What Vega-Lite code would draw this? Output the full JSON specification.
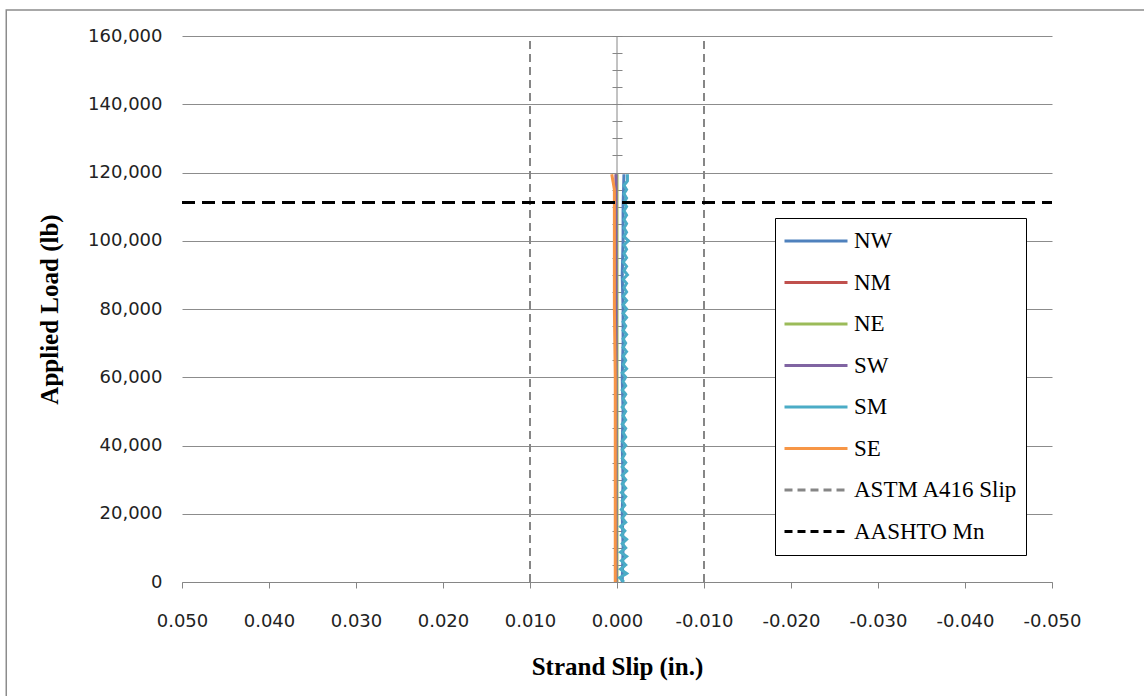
{
  "$schema": "https://vega.github.io/schema/vega-lite/v6.json",
  "width": 870,
  "height": 546,
  "autosize": {"type": "none"},
  "padding": {"left": 182, "top": 36, "right": 92, "bottom": 114},
  "background": "white",
  "config": {"view": {"stroke": null}},
  "datasets": {
    "meas": [
      {"s": "NW", "x": -0.0006, "y": 0}, {"s": "NW", "x": -0.0007, "y": 10000}, {"s": "NW", "x": -0.0006, "y": 20000}, {"s": "NW", "x": -0.0007, "y": 30000}, {"s": "NW", "x": -0.0006, "y": 40000}, {"s": "NW", "x": -0.0007, "y": 50000}, {"s": "NW", "x": -0.0006, "y": 60000}, {"s": "NW", "x": -0.0007, "y": 70000}, {"s": "NW", "x": -0.0007, "y": 80000}, {"s": "NW", "x": -0.0006, "y": 90000}, {"s": "NW", "x": -0.0007, "y": 100000}, {"s": "NW", "x": -0.0007, "y": 110000}, {"s": "NW", "x": -0.0008, "y": 119500},
      {"s": "NM", "x": 0.0001, "y": 0}, {"s": "NM", "x": 0.0001, "y": 20000}, {"s": "NM", "x": 0.0001, "y": 40000}, {"s": "NM", "x": 0.0001, "y": 60000}, {"s": "NM", "x": 0.0001, "y": 80000}, {"s": "NM", "x": 0.0001, "y": 100000}, {"s": "NM", "x": 0.0001, "y": 119500},
      {"s": "NE", "x": 0.0000, "y": 0}, {"s": "NE", "x": 0.0000, "y": 20000}, {"s": "NE", "x": 0.0000, "y": 40000}, {"s": "NE", "x": 0.0000, "y": 60000}, {"s": "NE", "x": 0.0000, "y": 80000}, {"s": "NE", "x": 0.0000, "y": 100000}, {"s": "NE", "x": 0.0000, "y": 119500},
      {"s": "SW", "x": 0.0001, "y": 0}, {"s": "SW", "x": 0.0001, "y": 20000}, {"s": "SW", "x": 0.0001, "y": 40000}, {"s": "SW", "x": 0.0001, "y": 60000}, {"s": "SW", "x": 0.0001, "y": 80000}, {"s": "SW", "x": 0.0001, "y": 100000}, {"s": "SW", "x": 0.0001, "y": 119500},
      {"s": "SM", "x": -0.0008, "y": 0}, {"s": "SM", "x": -0.0003, "y": 1250}, {"s": "SM", "x": -0.0011, "y": 2500}, {"s": "SM", "x": -0.0004, "y": 3750}, {"s": "SM", "x": -0.0010, "y": 5000}, {"s": "SM", "x": -0.0005, "y": 6250}, {"s": "SM", "x": -0.0011, "y": 7500}, {"s": "SM", "x": -0.0004, "y": 8750},
      {"s": "SM", "x": -0.0010, "y": 10000}, {"s": "SM", "x": -0.0006, "y": 11250}, {"s": "SM", "x": -0.0011, "y": 12500}, {"s": "SM", "x": -0.0005, "y": 13750}, {"s": "SM", "x": -0.0009, "y": 15000}, {"s": "SM", "x": -0.0004, "y": 16250}, {"s": "SM", "x": -0.0010, "y": 17500}, {"s": "SM", "x": -0.0006, "y": 18750},
      {"s": "SM", "x": -0.0010, "y": 20000}, {"s": "SM", "x": -0.0005, "y": 21250}, {"s": "SM", "x": -0.0009, "y": 22500}, {"s": "SM", "x": -0.0006, "y": 23750}, {"s": "SM", "x": -0.0010, "y": 25000}, {"s": "SM", "x": -0.0005, "y": 26250}, {"s": "SM", "x": -0.0010, "y": 27500}, {"s": "SM", "x": -0.0006, "y": 28750},
      {"s": "SM", "x": -0.0010, "y": 30000}, {"s": "SM", "x": -0.0006, "y": 31250}, {"s": "SM", "x": -0.0011, "y": 32500}, {"s": "SM", "x": -0.0006, "y": 33750}, {"s": "SM", "x": -0.0010, "y": 35000}, {"s": "SM", "x": -0.0006, "y": 36250}, {"s": "SM", "x": -0.0009, "y": 37500}, {"s": "SM", "x": -0.0006, "y": 38750},
      {"s": "SM", "x": -0.0010, "y": 40000}, {"s": "SM", "x": -0.0006, "y": 41250}, {"s": "SM", "x": -0.0010, "y": 42500}, {"s": "SM", "x": -0.0007, "y": 43750}, {"s": "SM", "x": -0.0010, "y": 45000}, {"s": "SM", "x": -0.0006, "y": 46250}, {"s": "SM", "x": -0.0010, "y": 47500}, {"s": "SM", "x": -0.0007, "y": 48750},
      {"s": "SM", "x": -0.0010, "y": 50000}, {"s": "SM", "x": -0.0006, "y": 51250}, {"s": "SM", "x": -0.0010, "y": 52500}, {"s": "SM", "x": -0.0007, "y": 53750}, {"s": "SM", "x": -0.0010, "y": 55000}, {"s": "SM", "x": -0.0006, "y": 56250}, {"s": "SM", "x": -0.0010, "y": 57500}, {"s": "SM", "x": -0.0007, "y": 58750},
      {"s": "SM", "x": -0.0010, "y": 60000}, {"s": "SM", "x": -0.0006, "y": 61250}, {"s": "SM", "x": -0.0011, "y": 62500}, {"s": "SM", "x": -0.0007, "y": 63750}, {"s": "SM", "x": -0.0010, "y": 65000}, {"s": "SM", "x": -0.0007, "y": 66250}, {"s": "SM", "x": -0.0011, "y": 67500}, {"s": "SM", "x": -0.0007, "y": 68750},
      {"s": "SM", "x": -0.0010, "y": 70000}, {"s": "SM", "x": -0.0007, "y": 71250}, {"s": "SM", "x": -0.0011, "y": 72500}, {"s": "SM", "x": -0.0007, "y": 73750}, {"s": "SM", "x": -0.0010, "y": 75000}, {"s": "SM", "x": -0.0007, "y": 76250}, {"s": "SM", "x": -0.0011, "y": 77500}, {"s": "SM", "x": -0.0007, "y": 78750},
      {"s": "SM", "x": -0.0011, "y": 80000}, {"s": "SM", "x": -0.0007, "y": 81250}, {"s": "SM", "x": -0.0011, "y": 82500}, {"s": "SM", "x": -0.0007, "y": 83750}, {"s": "SM", "x": -0.0011, "y": 85000}, {"s": "SM", "x": -0.0008, "y": 86250}, {"s": "SM", "x": -0.0011, "y": 87500}, {"s": "SM", "x": -0.0007, "y": 88750},
      {"s": "SM", "x": -0.0012, "y": 90000}, {"s": "SM", "x": -0.0008, "y": 91250}, {"s": "SM", "x": -0.0011, "y": 92500}, {"s": "SM", "x": -0.0007, "y": 93750}, {"s": "SM", "x": -0.0011, "y": 95000}, {"s": "SM", "x": -0.0008, "y": 96250}, {"s": "SM", "x": -0.0011, "y": 97500}, {"s": "SM", "x": -0.0008, "y": 98750},
      {"s": "SM", "x": -0.0013, "y": 100000}, {"s": "SM", "x": -0.0008, "y": 101250}, {"s": "SM", "x": -0.0011, "y": 102500}, {"s": "SM", "x": -0.0008, "y": 103750}, {"s": "SM", "x": -0.0011, "y": 105000}, {"s": "SM", "x": -0.0008, "y": 106250}, {"s": "SM", "x": -0.0011, "y": 107500}, {"s": "SM", "x": -0.0008, "y": 108750},
      {"s": "SM", "x": -0.0011, "y": 110000}, {"s": "SM", "x": -0.0008, "y": 111250}, {"s": "SM", "x": -0.0011, "y": 112500}, {"s": "SM", "x": -0.0008, "y": 113750}, {"s": "SM", "x": -0.0011, "y": 115000}, {"s": "SM", "x": -0.0008, "y": 116250}, {"s": "SM", "x": -0.0012, "y": 117500}, {"s": "SM", "x": -0.0012, "y": 119500},
      {"s": "SE", "x": 0.0002, "y": 0}, {"s": "SE", "x": 0.0002, "y": 20000}, {"s": "SE", "x": 0.0002, "y": 40000}, {"s": "SE", "x": 0.0002, "y": 60000}, {"s": "SE", "x": 0.0003, "y": 80000}, {"s": "SE", "x": 0.0003, "y": 100000}, {"s": "SE", "x": 0.0003, "y": 115000}, {"s": "SE", "x": 0.0006, "y": 119500}
    ],
    "astm": [
      {"s": "ASTM A416 Slip", "g": "a", "x": 0.01, "y": 0}, {"s": "ASTM A416 Slip", "g": "a", "x": 0.01, "y": 160000},
      {"s": "ASTM A416 Slip", "g": "b", "x": -0.01, "y": 0}, {"s": "ASTM A416 Slip", "g": "b", "x": -0.01, "y": 160000}
    ],
    "aashto": [
      {"s": "AASHTO Mn", "x": 0.05, "y": 111200}, {"s": "AASHTO Mn", "x": -0.05, "y": 111200}
    ]
  },
  "layer": [
    {
      "data": {"values": [{"k": "frame"}]},
      "mark": {"type": "rect", "fill": "#FFFFFF", "fillOpacity": 0, "stroke": "#8C8C8C", "strokeWidth": 1.5},
      "encoding": {
        "x": {"datum": 0.0702, "type": "quantitative"},
        "x2": {"datum": -0.0720},
        "y": {"datum": 167600, "type": "quantitative", "axis": null},
        "y2": {"datum": -40000}
      }
    },
    {
      "data": {"name": "astm"},
      "mark": {"type": "line", "strokeWidth": 2},
      "encoding": {
        "x": {"field": "x", "type": "quantitative", "scale": {"domain": [-0.05, 0.05], "reverse": true, "nice": false, "zero": false},
          "axis": {"values": [-0.05, -0.04, -0.03, -0.02, -0.01, 0, 0.01, 0.02, 0.03, 0.04, 0.05],
            "labelExpr": "replace(format(datum.value, '.3f'), '\u2212', '-')", "labelOverlap": false, "labelFlush": false,
            "grid": false, "domainColor": "#868686", "tickColor": "#868686", "tickSize": 6,
            "labelFont": "DejaVu Sans", "labelFontSize": 18, "labelColor": "#222222", "labelPadding": 24,
            "title": "Strand Slip (in.)", "titleFont": "Liberation Serif", "titleFontSize": 25, "titleFontWeight": "bold", "titleColor": "#000000", "titlePadding": 24}},
        "y": {"field": "y", "type": "quantitative", "scale": {"domain": [0, 160000], "nice": false},
          "axis": {"values": [0, 20000, 40000, 60000, 80000, 100000, 120000, 140000, 160000], "format": ",d",
            "grid": true, "gridColor": "#8C8C8C", "domain": false, "ticks": false,
            "labelFont": "DejaVu Sans", "labelFontSize": 18, "labelColor": "#222222", "labelPadding": 20,
            "title": "Applied Load (lb)", "titleFont": "Liberation Serif", "titleFontSize": 25, "titleFontWeight": "bold", "titleColor": "#000000", "titlePadding": 25}},
        "detail": {"field": "g"},
        "order": {"field": "y"},
        "color": {"field": "s", "type": "nominal",
          "scale": {"domain": ["NW", "NM", "NE", "SW", "SM", "SE", "ASTM A416 Slip", "AASHTO Mn"], "range": ["#4F81BD", "#C0504D", "#9BBB59", "#8064A2", "#4BACC6", "#F79646", "#868686", "#000000"]},
          "legend": {"orient": "none", "legendX": 593, "legendY": 182, "title": null, "strokeColor": "#000000", "fillColor": "#FFFFFF", "padding": 8,
            "symbolType": "stroke", "symbolSize": 3969, "symbolStrokeWidth": 3, "labelFont": "Liberation Serif", "labelFontSize": 23, "labelColor": "#000000", "labelOffset": 5, "labelLimit": 400, "clipHeight": 30, "rowPadding": 11.5}},
        "strokeDash": {"field": "s", "type": "nominal",
          "scale": {"domain": ["NW", "NM", "NE", "SW", "SM", "SE", "ASTM A416 Slip", "AASHTO Mn"], "range": [[1, 0], [1, 0], [1, 0], [1, 0], [1, 0], [1, 0], [8, 5], [8, 5]]},
          "legend": {"orient": "none", "legendX": 593, "legendY": 182, "title": null, "strokeColor": "#000000", "fillColor": "#FFFFFF", "padding": 8,
            "symbolType": "stroke", "symbolSize": 3969, "symbolStrokeWidth": 3, "labelFont": "Liberation Serif", "labelFontSize": 23, "labelColor": "#000000", "labelOffset": 5, "labelLimit": 400, "clipHeight": 30, "rowPadding": 11.5}}
      }
    },
    {
      "data": {"values": [{"x": 0, "y": 0}, {"x": 0, "y": 160000}]},
      "mark": {"type": "line", "color": "#868686", "strokeWidth": 1},
      "encoding": {
        "x": {"field": "x", "type": "quantitative"},
        "y": {"field": "y", "type": "quantitative", "axis": {"orient": "left", "offset": -440, "values": [0, 5000, 10000, 15000, 20000, 25000, 30000, 35000, 40000, 45000, 50000, 55000, 60000, 65000, 70000, 75000, 80000, 85000, 90000, 95000, 100000, 105000, 110000, 115000, 120000, 125000, 130000, 135000, 140000, 145000, 150000, 155000, 160000], "labels": false, "domain": false, "grid": false, "tickSize": 10, "tickColor": "#868686", "title": null}},
        "order": {"field": "y"}
      }
    },
    {
      "data": {"name": "meas"},
      "mark": {"type": "line", "strokeWidth": 3},
      "encoding": {
        "x": {"field": "x", "type": "quantitative"},
        "y": {"field": "y", "type": "quantitative", "axis": null},
        "order": {"field": "y"},
        "color": {"field": "s", "type": "nominal"},
        "strokeDash": {"field": "s", "type": "nominal"}
      }
    },
    {
      "data": {"name": "aashto"},
      "mark": {"type": "line", "strokeWidth": 3, "strokeDash": [13, 7]},
      "encoding": {
        "x": {"field": "x", "type": "quantitative"},
        "y": {"field": "y", "type": "quantitative", "axis": null},
        "color": {"field": "s", "type": "nominal"}
      }
    }
  ],
  "resolve": {"axis": {"y": "independent"}}
}
